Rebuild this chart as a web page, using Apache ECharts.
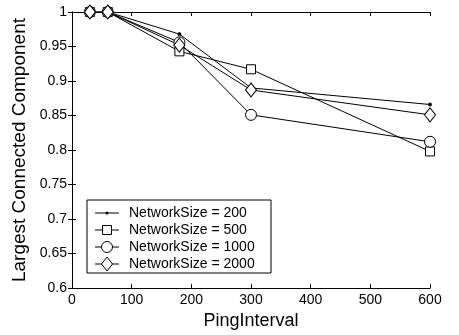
<!DOCTYPE html>
<html><head><meta charset="utf-8">
<script src="https://cdn.jsdelivr.net/npm/echarts@6/dist/echarts.min.js"></script>
<style>html,body{margin:0;padding:0;background:#fff}#c{width:459px;height:335px}</style>
</head><body><div id="c"></div>
<script>
var pingInterval = [30, 60, 180, 300, 600];
var size200  = [1, 1, 0.968, 0.890, 0.866];
var size500  = [1, 1, 0.943, 0.917, 0.798];
var size1000 = [1, 1, 0.956, 0.851, 0.812];
var size2000 = [1, 1, 0.952, 0.887, 0.851];
var seriesNames = ['NetworkSize = 200', 'NetworkSize = 500', 'NetworkSize = 1000', 'NetworkSize = 2000'];
var xTicks = [0, 100, 200, 300, 400, 500, 600];
var yTicks = [0.6, 0.65, 0.7, 0.75, 0.8, 0.85, 0.9, 0.95, 1];

function pts(ys){ return pingInterval.map(function(x,i){ return [x, ys[i]]; }); }
var font = 'Liberation Sans, Arial, Helvetica, sans-serif';
var chart = echarts.init(document.getElementById('c'), null, {renderer:'canvas'});
var axLine = {show:true, lineStyle:{color:'#000', width:1}};
var tick = {show:true, inside:true, length:4, lineStyle:{color:'#000', width:1}};
var markers = [
  {symbol:'circle', size:3, fill:'#000'},
  {symbol:'rect', size:9, fill:'#fff'},
  {symbol:'circle', size:11, fill:'#fff'},
  {symbol:'diamond', size:[11,14], fill:'#fff'}
];
var allData = [size200, size500, size1000, size2000];
var series = allData.map(function(d, k){
  var m = markers[k];
  return {name:seriesNames[k], type:'line', data:pts(d), symbol:m.symbol, symbolSize:m.size,
    showAllSymbol:true, animation:false,
    lineStyle:{color:'#000', width:1},
    itemStyle:{color:m.fill, borderColor:'#000', borderWidth:1}};
});

// legend drawn as graphic (line + marker + text)
var lgX = 87, lgY = 200, lgW = 184, lgH = 73, rowY0 = 213, rowStep = 17;
var legendEls = [{type:'rect', shape:{x:lgX, y:lgY, width:lgW, height:lgH},
  style:{fill:'#fff', stroke:'#000', lineWidth:1}, z:100}];
seriesNames.forEach(function(name, k){
  var cy = rowY0 + k*rowStep, m = markers[k];
  legendEls.push({type:'line', shape:{x1:95, y1:cy, x2:119, y2:cy},
    style:{stroke:'#000', lineWidth:1}, z:101});
  var sym;
  if (k === 0) sym = {type:'circle', shape:{cx:107, cy:cy, r:1.5}, style:{fill:'#000'}};
  else if (k === 1) sym = {type:'rect', shape:{x:102.5, y:cy-4.5, width:9, height:9}, style:{fill:'#fff', stroke:'#000', lineWidth:1}};
  else if (k === 2) sym = {type:'circle', shape:{cx:107, cy:cy, r:5.5}, style:{fill:'#fff', stroke:'#000', lineWidth:1}};
  else sym = {type:'polygon', shape:{points:[[107,cy-7],[112.5,cy],[107,cy+7],[101.5,cy]]}, style:{fill:'#fff', stroke:'#000', lineWidth:1}};
  sym.z = 102;
  legendEls.push(sym);
  legendEls.push({type:'text', x:129, y:cy, z:102,
    style:{text:name, fontFamily:font, fontSize:14, fill:'#000', verticalAlign:'middle', align:'left'}});
});

chart.setOption({
  animation:false,
  backgroundColor:'#fff',
  textStyle:{fontFamily:font},
  grid:{left:72, right:29, top:12, bottom:41, containLabel:false},
  xAxis:[{
    type:'value', min:xTicks[0], max:xTicks[xTicks.length-1], interval:100,
    name:'PingInterval', nameLocation:'middle', nameGap:19,
    nameTextStyle:{fontFamily:font, fontSize:18, color:'#000'},
    axisLine:axLine, axisTick:tick, splitLine:{show:false},
    axisLabel:{color:'#000', fontSize:14, fontFamily:font, margin:5}
  },{
    type:'value', position:'top', min:0, max:600, interval:100,
    axisLine:axLine, axisTick:tick, axisLabel:{show:false}, splitLine:{show:false}
  }],
  yAxis:[{
    type:'value', min:yTicks[0], max:yTicks[yTicks.length-1], interval:0.05,
    name:'Largest Connected Component', nameLocation:'middle', nameGap:40,
    nameTextStyle:{fontFamily:font, fontSize:19, color:'#000'},
    axisLine:axLine, axisTick:tick, splitLine:{show:false},
    axisLabel:{color:'#000', fontSize:14, fontFamily:font, margin:5}
  },{
    type:'value', position:'right', min:0.6, max:1, interval:0.05,
    axisLine:axLine, axisTick:tick, axisLabel:{show:false}, splitLine:{show:false}
  }],
  graphic:legendEls,
  series:series
});
</script></body></html>
